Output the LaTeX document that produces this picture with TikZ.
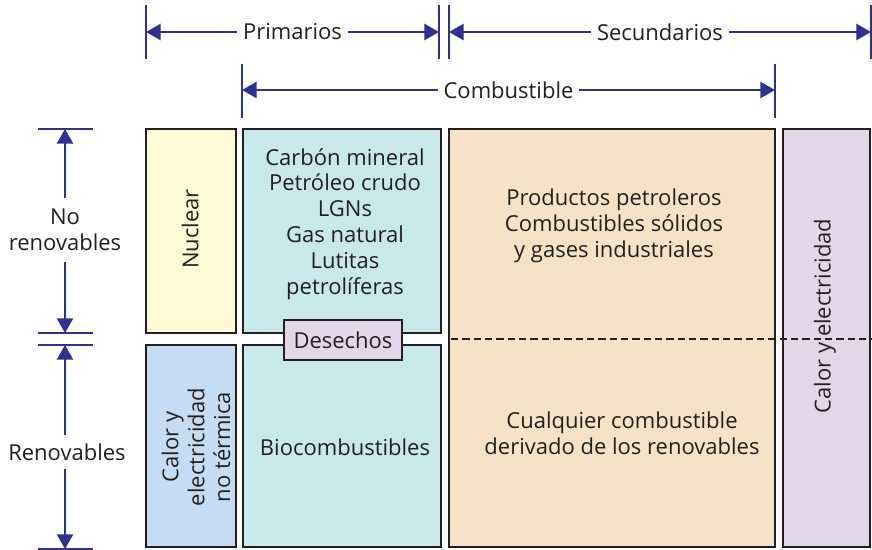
\documentclass[tikz,border=0pt]{standalone}
\usepackage{fontspec}
\setmainfont{Open Sans}
\usetikzlibrary{arrows.meta}

\definecolor{dimblue}{HTML}{2E3192}
\definecolor{boxline}{HTML}{231F20}
\definecolor{txtgray}{HTML}{231F20}
\definecolor{nuclearfill}{HTML}{FFF9D5}
\definecolor{fosilfill}{HTML}{C9E8EC}
\definecolor{renovfill}{HTML}{C6DCF2}
\definecolor{secfill}{HTML}{F6E2C6}
\definecolor{calorfill}{HTML}{E1D6EA}

\tikzset{every picture/.style={line width=0.75pt}}

\begin{document}
\begin{tikzpicture}[x=0.75pt,y=0.75pt,yscale=-1,xscale=1,
  box/.style={draw=boxline, line width=1.7pt},
  dimline/.style={draw=dimblue, line width=1.9pt},
  dimtick/.style={draw=dimblue, line width=1.5pt},
  dimarrow/.style={dimline, -{Triangle[length=11pt,width=12pt]}},
  lbl/.style={text=txtgray, font=\fontsize{16.5}{19.4}\selectfont, align=center, inner sep=0pt},
  dimlabel/.style={lbl, inner xsep=4pt, inner ysep=5pt}]
\useasboundingbox (0,0) rectangle (872,550);

%Boxes
\draw [box, fill=nuclearfill] (146,129) rectangle (236,333);
\draw [box, fill=fosilfill] (243,129) rectangle (441,333);
\draw [box, fill=renovfill] (146,345) rectangle (236,547);
\draw [box, fill=fosilfill] (243,345) rectangle (441,547);
\draw [box, fill=secfill] (449,129) rectangle (775,547);
\draw [box, fill=calorfill] (783,129) rectangle (870,547);

%Dashed Lines
\draw [boxline, line width=1.6pt, dash pattern=on 5.5pt off 3pt] (451,339) -- (872,339);

% Text Node
\node [box, lbl, fill=calorfill, minimum width=88pt, minimum height=30pt] (desechos) at (343,340) {Desechos};

% Text Node
\node [lbl, rotate=90] (nuclear) at (190,229) {Nuclear};
% Text Node
\node [lbl] (fosiles) at (345,224) {Carbón mineral\\Petróleo crudo\\LGNs\\Gas natural\\Lutitas\\petrolíferas};
% Text Node
\node [lbl, rotate=90] (calorne) at (196,447) {Calor y\\electricidad\\no térmica};
% Text Node
\node [lbl] (biocomb) at (345,447) {Biocombustibles};
% Text Node
\node [lbl] (petrol) at (614,226) {Productos petroleros\\Combustibles sólidos\\y gases industriales};
% Text Node
\node [lbl] (derivado) at (622,433) {Cualquier combustible\\derivado de los renovables};
% Text Node
\node [lbl, rotate=90] (calor) at (825,316) {Calor y electricidad};

%Dimension ticks
\coordinate (primL) at (146,32);
\coordinate (primR) at (439,32);
\coordinate (secL) at (449,32);
\coordinate (secR) at (871,32);
\coordinate (combL) at (242,90);
\coordinate (combR) at (775,90);
\coordinate (norenT) at (65,129);
\coordinate (norenB) at (65,333);
\coordinate (renT) at (65,345);
\coordinate (renB) at (65,549);

\foreach \t in {primL,primR,secL,secR}
  \draw [dimtick] (\t) ++(0,-27) -- ++(0,54);
\foreach \t in {combL,combR}
  \draw [dimtick] (\t) ++(0,-26) -- ++(0,54);
\foreach \t in {norenT,norenB,renT,renB}
  \draw [dimtick] (\t) ++(-27,0) -- ++(55,0);

% Dimension labels
\node [dimlabel] (prim) at (292.5,32) {Primarios};
\node [dimlabel] (sec) at (660,32) {Secundarios};
\node [dimlabel] (comb) at (508.5,90) {Combustible};
\node [dimlabel, inner ysep=8pt] (noren) at (65,230) {No\\renovables};
\node [dimlabel, inner ysep=6pt] (ren) at (67,452) {Renovables};

%Dimension arrows
\draw [dimarrow] (prim) -- (primL);
\draw [dimarrow] (prim) -- (primR);
\draw [dimarrow] (sec) -- (secL);
\draw [dimarrow] (sec) -- (secR);
\draw [dimarrow] (comb) -- (combL);
\draw [dimarrow] (comb) -- (combR);
\draw [dimarrow] (noren) -- (norenT);
\draw [dimarrow] (noren) -- (norenB);
\draw [dimarrow] (ren.north -| renT) -- (renT);
\draw [dimarrow] (ren.south -| renB) -- (renB);

\end{tikzpicture}
\end{document}
